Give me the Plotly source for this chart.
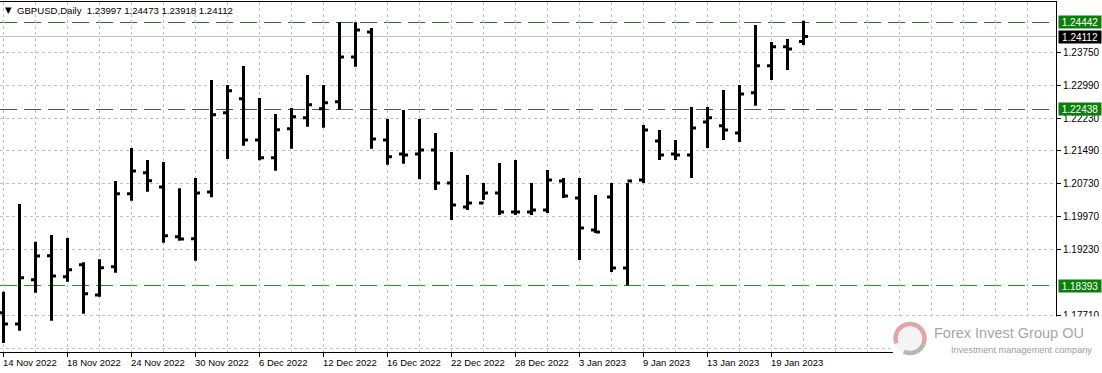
import math
import pandas as pd
import plotly.graph_objects as go

# ---------------- data ----------------
dates = pd.bdate_range("2022-11-14", "2023-01-23")

opens = [1.17770, 1.17511, 1.18528, 1.19080, 1.18597, 1.18873, 1.18177, 1.18827, 1.20503, 1.20985,
         1.20657, 1.19516, 1.19470, 1.20542, 1.22363, 1.22685, 1.21736, 1.21330, 1.21996, 1.22248,
         1.22455, 1.22616, 1.23642, 1.24216, 1.21736, 1.21415, 1.21415, 1.21507, 1.20749, 1.20198,
         1.20290, 1.20519, 1.20083, 1.20083, 1.20129, 1.20795, 1.20405, 1.19670, 1.20428, 1.18797,
         1.20818, 1.21713, 1.21415, 1.21392, 1.22150, 1.22065, 1.21897, 1.22822, 1.23442, 1.23879,
         1.23997]
highs = [1.18253, 1.20267, 1.19401, 1.19555, 1.19486, 1.18928, 1.18997, 1.20795, 1.21553, 1.21277,
         1.21231, 1.20627, 1.20864, 1.23114, 1.22999, 1.23436, 1.22701, 1.22333, 1.22471, 1.23229,
         1.22999, 1.24442, 1.24442, 1.24308, 1.22219, 1.22425, 1.22219, 1.21897, 1.21461, 1.20933,
         1.20749, 1.21208, 1.21277, 1.20749, 1.21048, 1.20864, 1.20864, 1.20473, 1.20749, 1.20749,
         1.22081, 1.21966, 1.21736, 1.22494, 1.22494, 1.22884, 1.22999, 1.24377, 1.23987, 1.24056,
         1.24473]
lows = [1.17075, 1.17357, 1.18230, 1.17587, 1.18483, 1.17748, 1.18138, 1.18689, 1.20342, 1.20549,
        1.19378, 1.19424, 1.18965, 1.20421, 1.21300, 1.21605, 1.21270, 1.21031, 1.21537, 1.22042,
        1.22019, 1.22438, 1.23419, 1.21537, 1.21169, 1.21192, 1.20834, 1.20588, 1.19899, 1.20129,
        1.20359, 1.20014, 1.20014, 1.20014, 1.20060, 1.20405, 1.18981, 1.19601, 1.18705, 1.18393,
        1.20749, 1.21277, 1.21277, 1.20864, 1.21553, 1.21736, 1.21690, 1.22524, 1.23114, 1.23344,
        1.23918]
closes = [1.17511, 1.18574, 1.19073, 1.18614, 1.18758, 1.18207, 1.18804, 1.20503, 1.21025, 1.20802,
          1.19539, 1.19463, 1.20519, 1.22317, 1.22868, 1.21736, 1.21330, 1.21973, 1.22271, 1.22547,
          1.22593, 1.23642, 1.24262, 1.21759, 1.21353, 1.21392, 1.21507, 1.20749, 1.20244, 1.20290,
          1.20519, 1.20083, 1.20083, 1.20129, 1.20818, 1.20450, 1.19716, 1.19624, 1.18797, 1.20795,
          1.21966, 1.21392, 1.21392, 1.22012, 1.22248, 1.21966, 1.22793, 1.23442, 1.23879, 1.23826,
          1.24112]

symbol = "GBPUSD"
timeframe = "Daily"
price_ticks = [1.23750, 1.22990, 1.22230, 1.21490, 1.20730, 1.19970, 1.19230, 1.17710, 1.16950]
price_tick_text = ["1.23750", "1.22990", "1.22230", "1.21490", "1.20730", "1.19970", "1.19230",
                   "1.17710", ""]
levels = [1.24442, 1.22438, 1.18393]
level_colors = ["#2b6d2b", "#2b6d2b", "#1c9c1c"]
bid = closes[-1]
label_step = 4
brand = "Forex Invest Group OU"
tagline = "Investment management company"

# ---------------- geometry helpers (layout only) ----------------
W, H = 1102, 373
ML, MR, MT, MB = 0, 46, 2, 21
PW, PH = W - ML - MR, H - MT - MB
BAR_PX = 16
x0_bar_px = 3.5
xr = [-(x0_bar_px) / BAR_PX, (PW - x0_bar_px) / BAR_PX]
yr = [1.16868, 1.24905]


def px_x(px):
    return (px - ML) / PW


def px_y(py):
    return (H - MB - py) / PH


def crisp_offset(v):
    py = MT + (yr[1] - v) / (yr[1] - yr[0]) * PH
    return py - (math.floor(py) + 0.5)


xs = list(range(len(dates)))
tick_idx = list(range(0, len(dates), label_step))
tick_labels = [f"{dates[i].day} {dates[i]:%b %Y}" for i in tick_idx]

FONT = "Liberation Sans, Arial, sans-serif"
GRID = "#c0c0c0"

fig = go.Figure(go.Ohlc(
    x=xs, open=opens, high=highs, low=lows, close=closes,
    increasing=dict(line=dict(color="black", width=3)),
    decreasing=dict(line=dict(color="black", width=3)),
    tickwidth=0.28, hoverinfo="skip", showlegend=False,
))

shapes = []
for lv, lc in zip(levels, level_colors):
    off = crisp_offset(lv)
    shapes.append(dict(type="line", xref="paper", x0=0, x1=1, yref="y", ysizemode="pixel",
                       yanchor=lv, y0=off, y1=off,
                       line=dict(color=lc, width=1, dash="17px,7px"), layer="below"))
off = crisp_offset(bid)
shapes.append(dict(type="line", xref="paper", x0=0, x1=1, yref="y", ysizemode="pixel",
                   yanchor=bid, y0=off, y1=off,
                   line=dict(color="#c0c0c0", width=1), layer="below"))

# logo white box (covers axis lines)
shapes.append(dict(type="rect", xref="paper", yref="paper",
                   x0=px_x(893), x1=px_x(W + 2), y0=px_y(H + 2), y1=px_y(316.5),
                   fillcolor="white", line=dict(width=0), layer="above"))

cx, cy, R = 910, 338.5, 16.5


def arc_path(a0, a1, r, n=40):
    pts = []
    for k in range(n + 1):
        a = math.radians(a0 + (a1 - a0) * k / n)
        pts.append((r * math.cos(a), r * math.sin(a)))
    return "M " + " L ".join(f"{p[0]:.2f},{p[1]:.2f}" for p in pts)


shapes.append(dict(type="circle", xref="paper", yref="paper", xsizemode="pixel", ysizemode="pixel",
                   xanchor=px_x(cx), yanchor=px_y(cy), x0=-R, x1=R, y0=-R, y1=R,
                   fillcolor="#f5f3f3", line=dict(width=0), layer="above"))
shapes.append(dict(type="path", xref="paper", yref="paper", xsizemode="pixel", ysizemode="pixel",
                   xanchor=px_x(cx), yanchor=px_y(cy), path=arc_path(200, -25, R - 2),
                   line=dict(color="#e0a6a6", width=4.5), layer="above"))
shapes.append(dict(type="path", xref="paper", yref="paper", xsizemode="pixel", ysizemode="pixel",
                   xanchor=px_x(cx), yanchor=px_y(cy), path=arc_path(-25, -115, R - 2),
                   line=dict(color="#b6b6b6", width=4.5), layer="above"))

annotations = []
for i, t in zip(tick_idx, tick_labels):
    annotations.append(dict(x=i, xref="x", y=0, yref="paper", yanchor="top", xanchor="left",
                            text=t, showarrow=False, xshift=-2.5, yshift=-3,
                            font=dict(family=FONT, size=9.5, color="black")))
for lv, col in [(levels[0], "#0a800a"), (bid, "black"), (levels[1], "#0a800a"), (levels[2], "#0a800a")]:
    annotations.append(dict(x=1, xref="paper", y=lv, yref="y", xanchor="left", yanchor="middle",
                            xshift=2, text=f"{lv:.5f}", showarrow=False, bgcolor=col,
                            width=40, height=10, borderpad=1,
                            font=dict(family=FONT, size=10, color="white")))
annotations.append(dict(x=px_x(3), xref="paper", y=px_y(10), yref="paper", xanchor="left",
                        yanchor="middle", text="▼", showarrow=False,
                        font=dict(family="DejaVu Sans", size=8.5, color="black")))
annotations.append(dict(x=px_x(15), xref="paper", y=px_y(10), yref="paper", xanchor="left",
                        yanchor="middle", showarrow=False,
                        text=f"{symbol},{timeframe}  {opens[-1]:.5f} {highs[-1]:.5f} {lows[-1]:.5f} {closes[-1]:.5f}",
                        font=dict(family=FONT, size=9.6, color="black")))
annotations.append(dict(x=px_x(1008.5), xref="paper", y=px_y(333), yref="paper", xanchor="center",
                        yanchor="middle", showarrow=False, text=brand,
                        font=dict(family=FONT, size=14.5, color="#a6a6a6")))
annotations.append(dict(x=px_x(1021.5), xref="paper", y=px_y(350), yref="paper", xanchor="center",
                        yanchor="middle", showarrow=False, text=tagline,
                        font=dict(family=FONT, size=9.2, color="#9c9c9c")))

fig.update_layout(
    width=W, height=H, margin=dict(l=ML, r=MR, t=MT, b=MB, pad=0),
    paper_bgcolor="white", plot_bgcolor="white", showlegend=False,
    shapes=shapes, annotations=annotations,
    xaxis=dict(range=xr, tickmode="array", tickvals=tick_idx, ticktext=[""] * len(tick_idx),
               showticklabels=False, ticks="outside", ticklen=4, tickcolor="black",
               showline=True, linecolor="black", linewidth=1, mirror=True,
               showgrid=True, gridcolor=GRID, griddash="3px,3px", gridwidth=1, zeroline=False,
               rangeslider=dict(visible=False),
               minor=dict(tick0=0, dtick=2, showgrid=True, gridcolor=GRID, griddash="3px,3px",
                          gridwidth=1, ticks="")),
    yaxis=dict(range=yr, side="right", tickmode="array", tickvals=price_ticks,
               ticktext=price_tick_text, ticks="outside", ticklen=4,
               tickcolor="black", showline=True, linecolor="black", linewidth=1,
               showgrid=True, gridcolor=GRID, griddash="3px,3px", gridwidth=1, zeroline=False,
               tickfont=dict(family=FONT, size=10, color="black")),
)

fig.write_html("out.html")
